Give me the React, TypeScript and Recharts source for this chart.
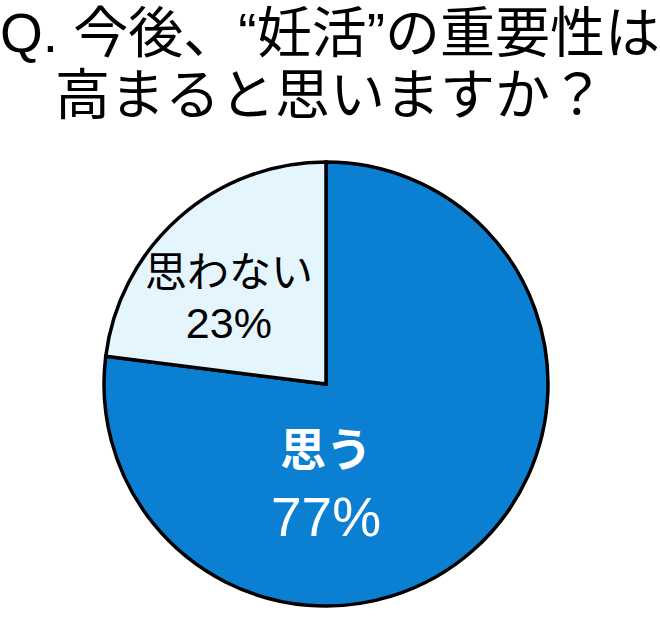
import { Cell, Pie, PieChart } from 'recharts'

// chart values
const answerLabels = ['思う', '思わない']
const answerShares = [77, 23]
const sliceColors = ['#0b80d3', '#e5f5fd']
const titleLines = ['Q. 今後、“妊活”の重要性は', '高まると思いますか？']

const data = answerLabels.map((name, i) => ({
  name,
  value: answerShares[i],
  color: sliceColors[i],
}))

if (typeof document !== 'undefined') {
  document.body.style.margin = '0'
}

const FONT = '"Liberation Sans", Arial, "Noto Sans CJK JP", sans-serif'
const RADIAN = Math.PI / 180

const renderLabel = (props: any) => {
  const { cx, cy, midAngle = 0, outerRadius = 0, index, name, value } = props
  // big slice label sits straight below the centre, small one near its middle
  const angle = index === 0 ? -90 : midAngle + 7
  const radius = outerRadius * (index === 0 ? 0.446 : 0.585)
  const x = cx + radius * Math.cos(-angle * RADIAN)
  const y = cy + radius * Math.sin(-angle * RADIAN)

  if (index === 0) {
    return (
      <g>
        <text x={x} y={y - 33} fill="#fff" textAnchor="middle" dominantBaseline="central"
          fontFamily={FONT} fontSize={46} fontWeight={700}>
          {name}
        </text>
        <text x={x} y={y + 34} fill="#fff" textAnchor="middle" dominantBaseline="central"
          fontFamily={FONT} fontSize={55}>
          {`${value}%`}
        </text>
      </g>
    )
  }
  return (
    <g>
      <text x={x} y={y - 25} fill="#000" textAnchor="middle" dominantBaseline="central"
        fontFamily={FONT} fontSize={42}>
        {name}
      </text>
      <text x={x} y={y + 25} fill="#000" textAnchor="middle" dominantBaseline="central"
        fontFamily={FONT} fontSize={43}>
        {`${value}%`}
      </text>
    </g>
  )
}

export default function App() {
  return (
    <div style={{ position: 'relative', width: 660, height: 620, background: '#fff', overflow: 'hidden' }}>
      <div
        style={{
          position: 'absolute',
          top: 2,
          left: 0,
          width: 660,
          textAlign: 'center',
          fontFamily: FONT,
          fontSize: 55,
          lineHeight: '62px',
          color: '#000',
          whiteSpace: 'nowrap',
        }}
      >
        {titleLines.map((line) => (
          <div key={line}>{line}</div>
        ))}
      </div>
      <div style={{ position: 'absolute', top: 0, left: 0 }}>
        <PieChart width={660} height={620} margin={{ top: 0, right: 0, bottom: 0, left: 0 }}>
          <Pie
            data={data}
            dataKey="value"
            nameKey="name"
            cx={326}
            cy={384}
            outerRadius={222}
            startAngle={90}
            endAngle={-270}
            stroke="#000"
            strokeWidth={3.5}
            labelLine={false}
            label={renderLabel}
            isAnimationActive={false}
          >
            {data.map((entry) => (
              <Cell key={entry.name} fill={entry.color} />
            ))}
          </Pie>
        </PieChart>
      </div>
    </div>
  )
}
